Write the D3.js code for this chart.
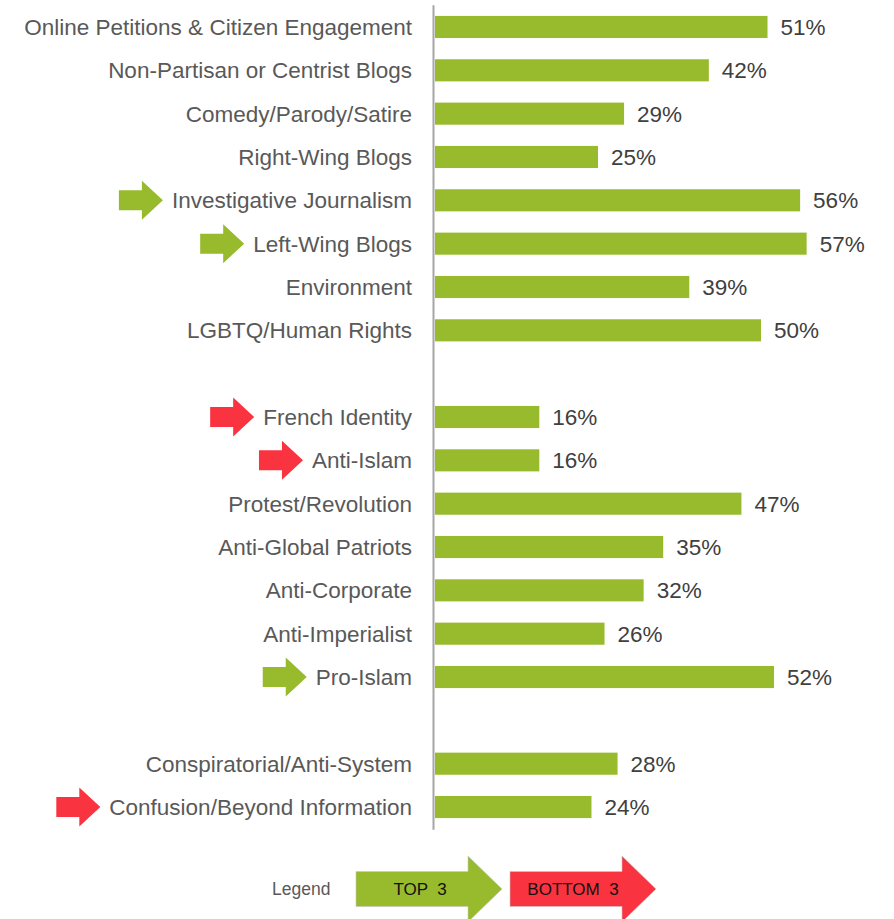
<!DOCTYPE html>
<html>
<head>
<meta charset="utf-8">
<script src="https://cdn.jsdelivr.net/npm/d3@7"></script>
<style>
  body { margin: 0; background: #fff; }
  text { font-family: "Liberation Sans", Arial, sans-serif; white-space: pre; }
</style>
</head>
<body>
<div id="chart"></div>
<script>

// categories in display order; "" entries are blank spacer rows
var categories = [
  "Online Petitions & Citizen Engagement",
  "Non-Partisan or Centrist Blogs",
  "Comedy/Parody/Satire",
  "Right-Wing Blogs",
  "Investigative Journalism",
  "Left-Wing Blogs",
  "Environment",
  "LGBTQ/Human Rights",
  "",
  "French Identity",
  "Anti-Islam",
  "Protest/Revolution",
  "Anti-Global Patriots",
  "Anti-Corporate",
  "Anti-Imperialist",
  "Pro-Islam",
  "",
  "Conspiratorial/Anti-System",
  "Confusion/Beyond Information"
];

var values = [51, 42, 29, 25, 56, 57, 39, 50, null, 16, 16, 47, 35, 32, 26, 52, null, 28, 24];

var top3    = ["Investigative Journalism", "Left-Wing Blogs", "Pro-Islam"];
var bottom3 = ["French Identity", "Anti-Islam", "Confusion/Beyond Information"];

var legendItems = ["TOP  3", "BOTTOM  3"];

var GREEN = "#97bb2d",
    RED   = "#f9333f";

var size = {'w': 894, 'h': 919};

var svg = d3.select("#chart")
            .append("svg")
            .attr("width", size.w)
            .attr("height", size.h);

// each row gets a unique key so the blank spacers are kept apart
var rows = categories.map(function(c, i) { return {key: i, label: c, value: values[i]}; });

var YScale = d3.scaleBand()
               .domain(rows.map(function(d) { return d.key; }))
               .range([5.3, 828.7])
               .paddingInner(0.49)
               .paddingOuter(0.245);

var XScale = d3.scaleLinear().domain([0, 100]).range([435, 435 + 652]);

var rowCenter = function(d) { return YScale(d.key) + YScale.bandwidth()/2; };

var dataRows = rows.filter(function(d) { return d.value != null; });

// bars
svg.selectAll(".bar")
   .data(dataRows)
   .enter().append("rect")
   .attr("class", "bar")
   .attr("x", XScale(0))
   .attr("y", function(d) { return YScale(d.key); })
   .attr("width", function(d) { return XScale(d.value) - XScale(0); })
   .attr("height", YScale.bandwidth())
   .attr("fill", GREEN);

// vertical axis line
svg.append("line")
   .attr("x1", 433.5).attr("x2", 433.5)
   .attr("y1", YScale.range()[0]).attr("y2", YScale.range()[1] + 1)
   .attr("stroke", "#a6a6a6")
   .attr("stroke-width", 2);

// value labels
svg.selectAll(".value-label")
   .data(dataRows)
   .enter().append("text")
   .attr("class", "value-label")
   .attr("x", function(d) { return XScale(d.value) + 13; })
   .attr("y", rowCenter)
   .attr("dy", "0.36em")
   .attr("font-size", 22.5)
   .attr("fill", "#404040")
   .text(function(d) { return d.value + "%"; });

// category labels
var labels = svg.selectAll(".cat-label")
   .data(dataRows)
   .enter().append("text")
   .attr("class", "cat-label")
   .attr("x", 412)
   .attr("y", rowCenter)
   .attr("dy", "0.36em")
   .attr("text-anchor", "end")
   .attr("font-size", 22.5)
   .attr("fill", "#595959")
   .text(function(d) { return d.label; });

// small block arrow pointing right, tip at (0,0)
function arrowPath(len, headLen, shaftH, headH) {
  return "M" + (-len) + "," + (-shaftH/2) +
         "L" + (-headLen) + "," + (-shaftH/2) +
         "L" + (-headLen) + "," + (-headH/2) +
         "L0,0" +
         "L" + (-headLen) + "," + (headH/2) +
         "L" + (-headLen) + "," + (shaftH/2) +
         "L" + (-len) + "," + (shaftH/2) + "Z";
}

// arrows in front of the top / bottom labels
labels.each(function(d) {
  var color = top3.indexOf(d.label) >= 0 ? GREEN : (bottom3.indexOf(d.label) >= 0 ? RED : null);
  if (!color) return;
  var textStart = 412 - this.getComputedTextLength();
  svg.append("path")
     .attr("d", arrowPath(44, 21, 20, 39))
     .attr("transform", "translate(" + (textStart - 9) + "," + rowCenter(d) + ")")
     .attr("fill", color);
});

// legend
var legendY = 889;

svg.append("text")
   .attr("x", 272).attr("y", legendY)
   .attr("dy", "0.36em")
   .attr("font-size", 17.5)
   .attr("fill", "#595959")
   .text("Legend");

var legendX = d3.scaleOrdinal().domain(legendItems).range([502, 656]);
var legendColor = d3.scaleOrdinal().domain(legendItems).range([GREEN, RED]);

var lg = svg.selectAll(".legend-arrow")
   .data(legendItems)
   .enter().append("g")
   .attr("class", "legend-arrow")
   .attr("transform", function(d) { return "translate(" + legendX(d) + "," + legendY + ")"; });

lg.append("path")
  .attr("d", arrowPath(146, 34, 35, 66))
  .attr("fill", function(d) { return legendColor(d); })
  .attr("stroke", "#c8c8c8")
  .attr("stroke-width", 0.6);

lg.append("text")
  .attr("x", function(d, i) { return i == 0 ? -82 : -83; })
  .attr("dy", "0.36em")
  .attr("text-anchor", "middle")
  .attr("font-size", 17)
  .attr("fill", "#111")
  .text(function(d) { return d; });

</script>
</body>
</html>
